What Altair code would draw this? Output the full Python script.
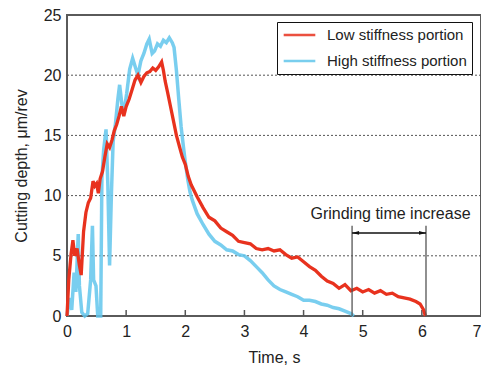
import altair as alt
import pandas as pd

# ---- data ----
red_t = [0, 0.03, 0.07, 0.10, 0.13, 0.17, 0.21, 0.24, 0.28, 0.32, 0.36, 0.40, 0.44, 0.47, 0.50,
         0.53, 0.56, 0.60, 0.64, 0.68, 0.72, 0.76, 0.80, 0.84, 0.88, 0.92, 0.96, 1.00, 1.05, 1.10,
         1.15, 1.20, 1.25, 1.30, 1.35, 1.40, 1.45, 1.50, 1.55, 1.60, 1.63, 1.66, 1.70, 1.75, 1.80,
         1.85, 1.90, 1.95, 2.00, 2.05, 2.10, 2.20, 2.30, 2.40, 2.50, 2.60, 2.70, 2.80, 2.90, 3.00,
         3.10, 3.20, 3.30, 3.40, 3.50, 3.60, 3.70, 3.80, 3.90, 4.00, 4.10, 4.20, 4.30, 4.40, 4.50,
         4.60, 4.70, 4.80, 4.90, 5.00, 5.10, 5.20, 5.30, 5.40, 5.50, 5.60, 5.70, 5.80, 5.90, 5.97,
         6.03, 6.06]
red_d = [0, 3.0, 5.2, 6.3, 5.0, 5.6, 4.2, 3.4, 7.0, 8.6, 9.4, 9.8, 11.2, 10.8, 11.0,
         10.2, 11.4, 12.0, 13.2, 14.3, 14.0, 14.6, 15.4, 15.9, 16.6, 17.4, 16.6, 17.4, 18.0, 18.8,
         19.6, 20.0, 19.4, 19.9, 20.2, 20.3, 20.6, 20.4, 20.7, 21.1, 20.4, 19.5, 18.6, 17.4, 16.2,
         15.0, 14.1, 13.2, 12.6, 11.6, 10.9, 9.9, 9.0, 8.2, 7.9, 7.3, 7.0, 6.7, 6.2, 6.1,
         6.0, 5.6, 5.5, 5.6, 5.4, 5.5, 5.1, 4.8, 4.9, 4.5, 4.1, 3.8, 3.3, 2.9, 2.7,
         2.3, 2.6, 2.1, 2.3, 2.0, 2.2, 1.9, 2.1, 1.8, 1.9, 1.6, 1.5, 1.4, 1.2, 1.0,
         0.5, 0]

blue_t = [0.00, 0.04, 0.08, 0.12, 0.15, 0.19, 0.21, 0.25, 0.30, 0.35, 0.40, 0.43, 0.45, 0.49,
          0.52, 0.57, 0.59, 0.62, 0.66, 0.69, 0.72, 0.75, 0.78, 0.82, 0.86, 0.89, 0.93, 0.97,
          1.01, 1.06, 1.11, 1.16, 1.20, 1.25, 1.30, 1.35, 1.39, 1.44, 1.48, 1.53, 1.58, 1.63,
          1.68, 1.73, 1.78, 1.81, 1.85, 1.89, 1.93, 1.97, 2.00, 2.04, 2.08, 2.12, 2.20, 2.30,
          2.40, 2.50, 2.60, 2.70, 2.80, 2.90, 3.00, 3.10, 3.20, 3.30, 3.40, 3.50, 3.60, 3.70,
          3.80, 3.90, 4.00, 4.10, 4.20, 4.30, 4.40, 4.50, 4.60, 4.70, 4.80, 4.85]
blue_d = [0, 1.5, 0.5, 3.6, 2.0, 6.8, 2.5, 0.3, 0, 0.2, 3.0, 7.5, 3.0, 2.5,
          0, 0, 11.5, 13.8, 15.5, 11.0, 4.2, 10.0, 14.5, 16.0, 18.0, 19.2, 17.5, 17.2,
          18.5, 20.5, 21.4, 20.6, 20.0, 21.2, 21.8, 22.6, 23.0, 21.8, 22.0, 22.6, 22.4, 22.9,
          22.7, 23.1, 22.7, 22.3, 20.4, 18.0, 15.7, 14.0, 12.8, 11.4, 10.3, 9.6, 8.5, 7.6,
          6.8, 6.2, 5.9, 5.5, 5.4, 5.1, 5.0, 4.6, 4.1, 3.6, 3.0, 2.5, 2.2, 2.0,
          1.8, 1.6, 1.3, 1.3, 1.2, 1.0, 0.9, 0.7, 0.6, 0.4, 0.2, 0]

series_names = ["Low stiffness portion", "High stiffness portion"]
series_colors = ["#e8321e", "#62c6ec"]

x_ticks = [0, 1, 2, 3, 4, 5, 6, 7]
y_ticks = [0, 5, 10, 15, 20, 25]
grid_y = [5, 10, 15, 20]
inner_ticks = [1, 2, 3, 4, 5, 6]

# annotation "Grinding time increase"
ann_start = 4.82
ann_end = 6.07
ann_arrow_y = 6.9
ann_line_top = 7.5
ann_text = "Grinding time increase"
ann_text_x = 5.47
ann_text_y = 8.5

FONT = "Liberation Sans"
W, H = 414, 301

red_df = pd.DataFrame({"t": red_t, "d": red_d, "s": series_names[0]})
blue_df = pd.DataFrame({"t": blue_t, "d": blue_d, "s": series_names[1]})

xscale = alt.Scale(domain=[0, 7], nice=False, zero=False)
yscale = alt.Scale(domain=[0, 25], nice=False)
cscale = alt.Scale(domain=series_names, range=series_colors)

xaxis = alt.Axis(values=x_ticks, title="Time, s", grid=False, domain=False, ticks=False,
                 labelPadding=7, titlePadding=10, format="d", labelFlush=False,
                 labelAlign=alt.expr("datum.value == 7 ? 'right' : 'center'"))
yaxis = alt.Axis(values=y_ticks, title="Cutting depth, \u03bcm/rev", grid=False, domain=False,
                 ticks=False, labelPadding=6, titlePadding=14, format="d", labelFlush=False)

legend = alt.Legend(title=None, orient="none", legendX=210, legendY=7,
                    symbolType="stroke", symbolSize=1000, symbolStrokeWidth=2.5,
                    clipHeight=16,
                    labelFontSize=15, labelFont=FONT, labelColor="#222",
                    strokeColor="#111", padding=5, rowPadding=10, labelOffset=10,
                    fillColor="white")

grid = alt.Chart(pd.DataFrame({"g": grid_y})).mark_rule(
    color="#555", strokeDash=[2, 2], strokeWidth=1
).encode(y=alt.Y("g:Q", scale=yscale, axis=yaxis))

ticks = alt.Chart(pd.DataFrame({"k": inner_ticks})).mark_rule(
    color="#555", strokeWidth=1.5
).encode(x=alt.X("k:Q", scale=xscale, axis=xaxis), y=alt.value(H), y2=alt.value(H - 6))

blue_line = alt.Chart(blue_df).mark_line(strokeWidth=3.5, opacity=0.85).encode(
    x=alt.X("t:Q", scale=xscale, axis=xaxis),
    y=alt.Y("d:Q", scale=yscale, axis=yaxis),
    color=alt.Color("s:N", scale=cscale, legend=legend),
)
red_line = alt.Chart(red_df).mark_line(strokeWidth=3.3).encode(
    x=alt.X("t:Q", scale=xscale, axis=xaxis),
    y=alt.Y("d:Q", scale=yscale, axis=yaxis),
    color=alt.Color("s:N", scale=cscale, legend=legend),
)

vlines = alt.Chart(pd.DataFrame({"v": [ann_start, ann_end], "top": [ann_line_top] * 2})).mark_rule(
    color="#555", strokeWidth=1.3
).encode(x=alt.X("v:Q", scale=xscale), y=alt.Y("top:Q", scale=yscale), y2=alt.value(H))

arrow_df = pd.DataFrame({"a": [ann_start], "b": [ann_end], "y": [ann_arrow_y]})
arrow_line = alt.Chart(arrow_df).mark_rule(color="#111", strokeWidth=1.5).encode(
    x=alt.X("a:Q", scale=xscale), x2="b:Q", y=alt.Y("y:Q", scale=yscale)
)
head_left = alt.Chart(arrow_df).mark_point(
    shape="M 0 0 L 2 -0.55 L 2 0.55 Z", filled=True, color="#111", size=49, opacity=1
).encode(x=alt.X("a:Q", scale=xscale), y=alt.Y("y:Q", scale=yscale))
head_right = alt.Chart(arrow_df).mark_point(
    shape="M 0 0 L -2 -0.55 L -2 0.55 Z", filled=True, color="#111", size=49, opacity=1
).encode(x=alt.X("b:Q", scale=xscale), y=alt.Y("y:Q", scale=yscale))

ann_label = alt.Chart(pd.DataFrame({"x": [ann_text_x], "y": [ann_text_y], "txt": [ann_text]})).mark_text(
    font=FONT, fontSize=16, color="#222", align="center", baseline="middle"
).encode(x=alt.X("x:Q", scale=xscale), y=alt.Y("y:Q", scale=yscale), text="txt:N")

chart = alt.layer(
    grid, ticks, blue_line, red_line, vlines, arrow_line, head_left, head_right, ann_label
).properties(
    width=W, height=H,
    padding={"left": 59, "top": 7, "right": 0, "bottom": 50},
    autosize=alt.AutoSizeParams(type="none"),
).configure_view(
    stroke="#5a5a5a", strokeWidth=2, fill="white"
).configure_axis(
    labelFont=FONT, titleFont=FONT, labelFontSize=16, titleFontSize=16,
    labelColor="#222", titleColor="#222", titleFontWeight="normal"
)

chart.save("out.html", embed_options={"renderer": "svg", "actions": False})
